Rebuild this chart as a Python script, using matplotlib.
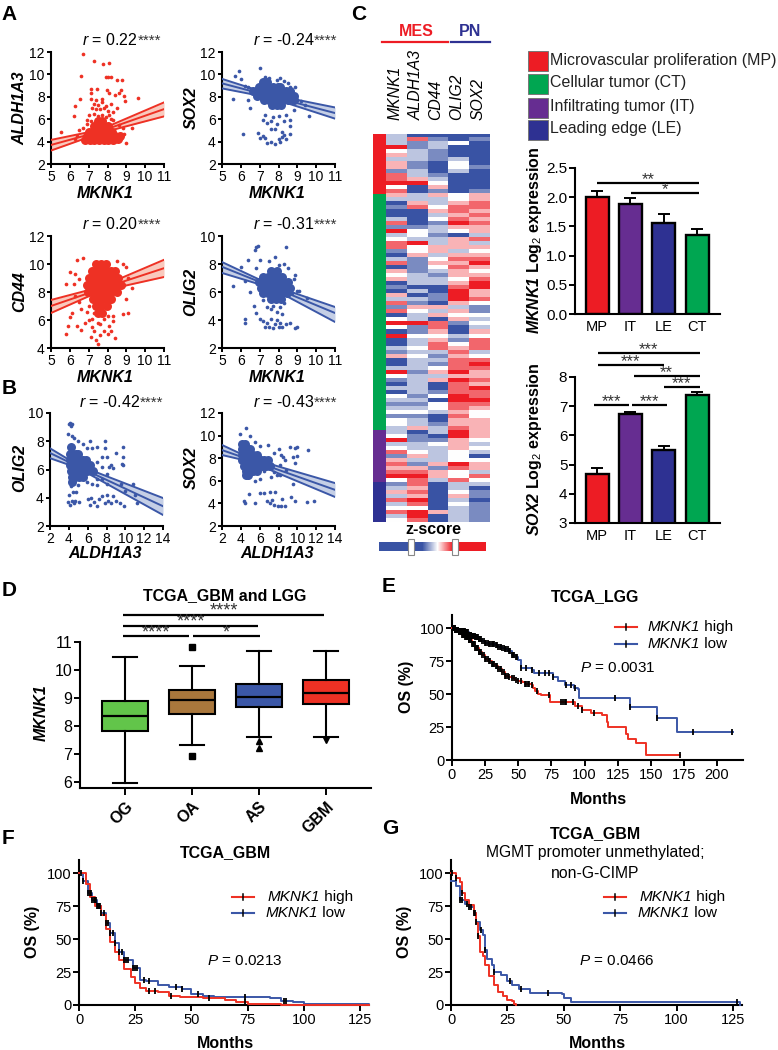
import numpy as np
import matplotlib
matplotlib.use("Agg")
import matplotlib.pyplot as plt
from matplotlib.colors import LinearSegmentedColormap
from matplotlib.lines import Line2D
from matplotlib.patches import Rectangle

W, H = 778, 1050
RED = "#ee3124"
BLUE = "#3b57a7"
K_RED = "#ed1c24"
K_GREEN = "#00a651"
K_PURPLE = "#662d91"
K_NAVY = "#2e3192"

plt.rcParams["font.family"] = ["Liberation Sans", "DejaVu Sans"]
plt.rcParams["mathtext.fontset"] = "custom"
plt.rcParams["mathtext.rm"] = "Liberation Sans"
plt.rcParams["mathtext.it"] = "Liberation Sans:italic"
plt.rcParams["mathtext.bf"] = "Liberation Sans:bold"
plt.rcParams["mathtext.bfit"] = "Liberation Sans:italic:bold"

# panel A/B scatter, single samples
a1_x = [6.7,7.3,7.75,8.1,6.6,7.9,8.05,8.2,8.5,8.75,7.1,7.45,7.95,8.7,6.55,6.3,6.2,7.15,7.1,7.4,7.7,8.1,8.4,8.6,8.85,8.95,9.6,5.55,9.3,9.0,
        7.3,7.5,7.7,7.9,8.2,8.5,7.2,7.4,7.6,7.8,8.0,8.3,7.0,7.3,7.5,7.7,7.9,8.1,6.9,7.1,7.4,7.6,7.8,8.0,8.3,6.7,6.5,6.4,6.9,8.6,8.8,8.9,6.3,8.2,8.7]
a1_y = [11.8,11.2,10.9,11.05,9.9,9.8,9.8,9.8,9.5,9.5,8.7,8.7,8.6,8.6,7.8,7.2,6.3,8.3,7.8,7.7,7.8,8.3,8.2,8.3,8.1,7.6,7.9,4.9,5.2,3.9,
        7.4,7.3,7.5,7.2,7.4,7.0,7.0,6.9,6.9,7.0,6.7,6.6,6.4,6.5,6.3,6.4,6.2,6.4,5.9,5.8,5.7,6.0,5.9,5.6,5.9,5.2,5.0,4.5,5.6,5.5,5.2,4.7,4.2,6.0,4.3]
a2_x = [7,5.9,5.7,6,8.1,8.3,8.6,5.6,6.4,6.5,9.6,6.1,6.9,7,7.2,7.3,7.4,7.6,7.8,8,8.1,8.2,8.3,8.6,8.4,7.6,7.8,8.2,7.2,7.4,7.6,7.9,8.3,8.6,8.6,7.3,7.7,8,8.4,8.8,9,9.2,9.4,8.9,6.2,6.4,7.3,7.5,7.9,8.5]
a2_y = [10.6,10.3,9.9,9.6,9.7,9.4,8.9,7.8,7.7,7,6.3,4.7,4.8,4.3,4.5,4.3,3.9,4,3.8,4.2,4,4.4,4.6,4.7,4.2,5.1,5.1,4.9,5.9,5.7,5.8,5.6,5.8,5.9,5.4,6.4,6.2,6.3,6.4,6.8,7.7,7.6,7.3,8.9,9,8.9,9.8,9.7,9.5,9.2]
a3_x = [6.4,6.7,6,6.3,5.8,6.2,6.5,8.5,8.8,9,9.1,8.9,9.3,5.9,5.8,6,6.1,6.4,6.6,6.8,7,7.2,7.1,7.3,7.4,7.5,7.6,7.8,8,8.2,8.4,7.3,7.6,7.8,8,8.3,8.8,9.1,9,6.5,6.6,6.3,7.2,7.5,8.1,8.3,6.9,7.0]
a3_y = [10.3,10.4,9.4,9.3,8.6,8.6,8.9,10.2,10,9.8,9,8.5,8.3,5.6,5,6.2,6.5,5.6,5.3,5.8,6,5.5,4.8,5.2,4.6,4.3,4.9,5.2,5,5.2,4.7,6.5,5.7,6.1,6.3,6.3,6.4,6.5,7.5,7.3,6.8,7.7,6.1,5.8,5.6,5.9,6.6,7.0]
a4_x = [6.8,6.9,6.75,8.4,6.4,7,7.5,7.8,8,8.3,8.5,8.9,6,6.8,5.6,6.2,6.5,9,9.1,8.8,6.7,6.8,6.2,6.2,7.0,7.2,7.3,7.4,7.5,7.6,7.7,7.8,7.9,8,8.1,8.2,8.4,8.6,8.9,9,7.6,7.7,7.9,8.1,8.2,7.2,7.4,8.3,9.5,8.7]
a4_y = [9.2,9.3,9.0,9.2,8.3,8.3,8.2,8.5,7.9,8,7.7,7.2,7.8,7.7,6.4,6.8,6,6.1,6.1,6.9,5,4.5,4.1,3.8,4.1,3.9,3.5,3.8,3.5,4.1,3.4,3.7,4,3.5,3.8,3.5,3.7,3.8,3.4,3.5,4.8,5,4.6,4.9,4.4,5.4,4.9,5.2,5.6,5.9]
b1_x = [4.1,4.2,4.0,4.3,3.9,4.3,4.6,5,5.5,6.2,7,7.8,7.8,6.5,5.9,9,9.7,9.8,9.6,9.8,7.5,8,8.5,8.7,8.3,7,7.5,8,7.5,7,5.9,6.5,7,8,9.5,10.8,10,11,4.1,4.2,4.4,4.8,5,4,3.9,4.1,4.3,4.5,4.7,5.1,6,6.2,6.4,6.7,7,7.2,7.5,7.8,8,8.2,8.5,8.7,9,9.4,9.9,11.2]
b1_y = [9.3,9.1,9.2,9.2,8.5,8.4,8.2,8,7.8,8,7.6,8.0,7.5,7.5,7.5,7.2,7.6,6.9,6.4,6.3,6.9,6.9,6.3,6.1,6.2,6.5,6.2,5.7,5.3,5.3,5.1,5,4.9,5,5,5,4.5,4.2,5.2,4.8,4.4,4.4,4.9,4.2,3.7,3.5,3.8,3.6,3.8,3.7,3.9,3.5,4,3.7,3.4,3.9,4.1,3.6,4.2,3.8,3.6,4.1,3.8,3.6,3.4,3.6]
b2_x = [4.6,3.9,5,5.5,6,6.9,7.5,8,8.3,8.7,9.2,9.7,10,11.1,9.5,10,9.8,8.2,8.8,7.5,5.5,6,4.5,4.9,6.5,7.2,7.8,8.2,9.5,4.9,4.3,4.4,5.5,6,6.5,6.8,7.1,7.3,7.5,7.9,8.3,8.4,8.7,9.3,9.8,11,11.8,7.1,7.6,8.5]
b2_y = [10.7,10.1,10,9.4,9.1,9.2,8.5,8.8,8.3,7.8,9,8.9,9,8.7,8.1,8.2,7.6,7.4,7,6.8,6,6.2,6.3,6.3,6.9,6.3,6.5,6.5,5.7,4.8,4.2,4.0,4,4.9,4.9,4.2,5,4.3,3.9,3.8,3.8,4.4,3.8,4.6,4.2,4.1,4.2,4,5.0,8.1]

# dense centre of each cloud, where single samples merge into one blob
a1_core_x = [6.8,7.05,7.3,7.55,7.8,8.05,8.3,8.55,6.9,7.15,7.4,7.65,7.9,8.15,8.4,8.65,7.0,7.25,7.5,7.75,8.0,8.25,7.3,7.55,7.8,8.0,7.5,7.7]
a1_core_y = [4.15,4.1,4.1,4.1,4.1,4.1,4.15,4.2,4.5,4.5,4.5,4.5,4.5,4.5,4.5,4.5,4.9,4.9,4.9,4.9,4.9,4.9,5.35,5.35,5.35,5.35,5.8,5.8]
a2_core_x = [7.2,7.4,6.95,7.2,7.45,7.7,7.95,8.1,6.65,6.9,7.15,7.4,7.65,7.9,8.15,8.4,8.6,6.85,7.1,7.35,7.6,7.85,8.1,8.35,8.6,8.8,7.25,7.5,7.75,8.0,8.25,8.5,8.8,7.65,7.9,8.15]
a2_core_y = [9.3,9.3,8.9,8.9,8.9,8.9,8.9,8.9,8.5,8.5,8.5,8.5,8.5,8.5,8.5,8.5,8.5,8.1,8.1,8.1,8.1,8.1,8.1,8.1,8.1,8.1,7.7,7.7,7.7,7.7,7.7,7.7,7.7,7.3,7.3,7.3]
a3_core_x = [7.4,7.65,7.9,7.2,7.45,7.7,7.95,8.2,8.4,7.0,7.25,7.5,7.75,8.0,8.25,8.55,6.9,7.15,7.4,7.65,7.9,8.15,8.4,8.7,6.95,7.2,7.45,7.7,7.95,8.2,8.5,7.25,7.5,7.75,8.0,8.2,7.4,7.65,7.95,7.5,7.7]
a3_core_y = [10,10,10,9.5,9.5,9.5,9.5,9.5,9.5,9,9,9,9,9,9,9,8.5,8.5,8.5,8.5,8.5,8.5,8.5,8.5,8,8,8,8,8,8,8,7.5,7.5,7.5,7.5,7.5,7,7,7,6.5,6.5]
a4_core_x = [7.6,7.9,7.2,7.45,7.7,7.95,8.2,6.95,7.2,7.45,7.7,7.95,8.2,8.5,7.05,7.3,7.55,7.8,8.05,8.3,8.6,7.2,7.45,7.7,7.95,8.2,8.45,7.6,7.85,8.15]
a4_core_y = [7.5,7.5,7.1,7.1,7.1,7.1,7.1,6.7,6.7,6.7,6.7,6.7,6.7,6.7,6.3,6.3,6.3,6.3,6.3,6.3,6.3,5.9,5.9,5.9,5.9,5.9,5.9,5.5,5.5,5.5]
b1_core_x = [4.2,4.1,4.4,4.8,5.0,4.1,4.5,4.9,5.2,5.5,5.8,4.1,4.5,4.9,5.3,5.7,6.0,6.3,4.2,4.6,5.0,5.5,5.9,6.6,4.3,4.7,5.1,5.5,4.3]
b1_core_y = [7.6,7.1,7.1,7.1,7.1,6.7,6.7,6.7,6.7,6.7,6.7,6.3,6.3,6.3,6.3,6.3,6.3,6.3,5.9,5.9,5.9,5.9,5.9,5.9,5.5,5.5,5.5,5.5,5.1]
b2_core_x = [4.1,4.4,4.1,4.4,4.7,5.0,4.1,4.5,4.9,5.3,5.7,4.1,4.5,4.9,5.3,5.7,6.1,6.5,6.9,4.3,4.7,5.1,5.5,5.9,6.3,6.7,7.1,4.5,4.9,5.3,5.7,4.5,4.8]
b2_core_y = [9.3,9.3,8.8,8.8,8.8,8.8,8.3,8.3,8.3,8.3,8.3,7.8,7.8,7.8,7.8,7.8,7.8,7.8,7.8,7.3,7.3,7.3,7.3,7.3,7.3,7.3,7.3,6.9,6.9,6.9,6.9,6.5,6.5]

# regression lines with the confidence band: upper, fit, lower
a1_line_x = [5, 7.6, 11]
a1_upper = [4.15, 5.05, 7.5]
a1_fit = [3.7, 4.9, 6.9]
a1_lower = [3.2, 4.75, 6.25]
a2_line_x = [5, 7.6, 11]
a2_upper = [9.6, 8.2, 7.05]
a2_fit = [9.2, 8.05, 6.55]
a2_lower = [8.75, 7.9, 6.05]
a3_line_x = [5, 7.6, 11]
a3_upper = [7.43, 8.35, 10.3]
a3_fit = [7.0, 8.2, 9.7]
a3_lower = [6.5, 8.05, 9.07]
a4_line_x = [5, 7.6, 11]
a4_upper = [8.14, 6.5, 4.93]
a4_fit = [7.8, 6.4, 4.5]
a4_lower = [7.36, 6.3, 3.86]
b1_line_x = [2, 5, 14]
b1_upper = [7.5, 6.3, 3.98]
b1_fit = [7.17, 6.2, 3.4]
b1_lower = [6.8, 6.1, 2.78]
b2_line_x = [2, 5, 14]
b2_upper = [9.17, 8.0, 5.8]
b2_fit = [8.72, 7.85, 5.2]
b2_lower = [8.28, 7.7, 4.57]

# heatmap rows: MKNK1, ALDH1A3, CD44, OLIG2, SOX2
heat_genes = ["MKNK1", "ALDH1A3", "CD44", "OLIG2", "SOX2"]
heat_mp = [
    [-1,-3,-3,-3,-3],[-1,2,-2,-3,-2],[-1,-2,-1,0,-3],[3,-2,-1,-3,-3],[0,-1,-2,-3,-3],
    [1,-1,-2,-3,-3],[-1,-1,-2,-1,-3],[1,-2,-3,0,-3],[1,-2,-3,0,-2],[-2,-1,-3,-1,-3],
    [2,-1,-2,-3,-3],[2,1,-1,-3,-3],[3,3,0,-3,-3],[0,-3,1,-3,-3],[2,-3,-2,-3,-2],
]
heat_ct = [
    [1,-1,1,0,1],[-1,-1,-1,0,1],[-3,1,-1,1,2],[-2,2,0,2,2],[-3,-3,1,2,1],
    [-3,-3,-1,1,2],[-1,-3,0,2,1],[2,-3,-2,3,2],[-2,-2,-1,1,1],[3,0,-1,0,1],
    [-1,0,-2,-3,-1],[0,-1,-1,1,2],[2,3,-1,1,-1],[2,0,1,1,1],[-2,0,1,-1,0],
    [-3,1,-1,1,1],[-1,-2,0,2,2],[2,-2,1,1,3],[-3,-2,0,2,1],[1,-2,-1,1,0],
    [0,-1,-2,1,1],[1,-1,-1,0,2],[-3,-1,-1,1,3],[-2,-3,-3,2,3],[-3,-1,-3,3,1],
    [1,-3,-2,3,1],[-1,-1,-2,3,2],[2,-2,-3,1,0],[-2,1,1,-1,-2],[2,0,-1,1,-2],
    [-3,-1,1,0,0],[0,-1,-3,1,-1],[3,3,2,-2,0],[0,-2,2,-3,-1],[-3,-2,1,-3,1],
    [3,0,0,-1,0],[-3,-1,1,-2,2],[-3,-1,2,0,2],[-1,0,2,1,2],[-2,-1,-1,2,-1],
    [1,0,-2,1,0],[-3,-1,-1,2,2],[-3,-1,-2,2,3],[-1,-1,0,2,2],[3,-2,1,3,1],
    [0,-1,-1,1,1],[-2,-1,1,3,2],[-3,-1,-3,2,1],[-1,-1,-3,2,3],[-3,-1,-2,2,2],
    [0,-2,0,3,2],[-1,-1,-3,3,3],[-2,-2,0,2,2],[-1,-1,0,2,1],[0,0,-1,1,0],
    [-2,-2,-3,2,0],[0,-1,-3,1,1],[0,-1,-2,1,1],[-1,1,-1,2,1],
]
heat_it = [
    [-1,-3,-1,3,1],[0,-2,-3,3,1],[3,-2,-2,1,0],[-1,-1,0,1,-1],[0,-1,-1,1,0],
    [2,0,-1,0,-1],[-2,1,-1,0,-3],[1,-1,-1,0,0],[2,-2,1,3,1],[1,1,-2,2,1],
    [2,2,1,0,-1],[3,3,1,0,2],[0,2,-1,2,0],
]
heat_le = [
    [-2,2,-3,-1,-1],[-1,1,-3,-1,-3],[1,2,-3,0,-2],[-1,1,-3,1,-2],[2,3,-3,-1,-3],
    [-1,2,-3,0,-2],[0,0,-3,-1,-2],[2,3,1,-1,-2],[-1,3,-3,-1,-2],[0,2,-3,-1,-2],
]
group_names = ["Microvascular proliferation (MP)", "Cellular tumor (CT)",
               "Infiltrating tumor (IT)", "Leading edge (LE)"]

# bars
bar_labels = ["MP", "IT", "LE", "CT"]
mknk1_means = [2.0, 1.88, 1.55, 1.36]
mknk1_errs = [0.1, 0.1, 0.17, 0.1]
sox2_means = [4.68, 6.72, 5.5, 7.4]
sox2_errs = [0.2, 0.08, 0.13, 0.07]

# boxes
box_labels = ["OG", "OA", "AS", "GBM"]
box_low = [5.98, 7.33, 7.62, 7.6]
box_q1 = [7.83, 8.44, 8.69, 8.78]
box_med = [8.35, 8.92, 9.05, 9.17]
box_q3 = [8.88, 9.27, 9.5, 9.63]
box_high = [10.48, 10.15, 10.68, 10.68]
box_fliers = [[], [10.83, 6.93], [7.47, 7.22], [7.5]]
box_colors = ["#62c54a", "#a9773c", "#3b57a7", "#ee3124"]

# survival curves
e_high_t = [0,2.5,5,7.5,10,12.5,15,17.5,20,22.5,25,27.5,30,32.5,35,37.5,40,42.5,45,47.5,50,52.5,55,57.5,60,61,63,65,67,74,93,98,105,113,117,118,131,133,139,146.5,172]
e_high_s = [100,99,97,95,93,91,88,85,82,80,77,75,73,71,69,67,64,63,62,61,60,59,58,58,57,55,52,50,49,44,41,38,36,34,29,25,20,16,13,4,4]
e_low_t = [0,2.5,5,7.5,10,12.5,15,17.5,20,22.5,25,27.5,30,32.5,35,37.5,40,42.5,45,47.5,50,52,60,62,73,76,80,85,92,95,96,134,155,170,212]
e_low_s = [100,99,98,98,97,95,94,93,92,90,89,88,88,87,86,85,84,83,80,78,76,70,68,66,66,63,60,57,55,54,47,40,32,21,21]
e_high_cens = [0.5,1,1.5,2,2.5,3,3.5,4,4.5,5,5.5,6,6.5,7,7.5,8,8.5,9,9.5,10,10.5,11,11.5,12,12.5,13,13.5,14,14.5,15,15.5,16,16.5,17,17.5,18,18.5,19,19.5,20,20.5,21,22,23,24,25,26,27,28,29,30,31,32,33,34,35,36,37,38,39,40,41,42,43,45,47,48,50,52,55,56,57,58,60,64,73,82,84,85,86,91,95,98,107,172]
e_low_cens = [0.5,1,1.5,2,2.5,3,3.5,4,4.5,5,5.5,6,6.5,7,7.5,8,8.5,9,9.5,10,10.5,11,11.5,12,12.5,13,13.5,14,14.5,15,15.5,16,16.5,17,17.5,18,18.5,19,19.5,20,20.5,21,22,23,24,25,26,27,28,29,30,31,32,33,34,35,36,37,38,39,40,41,42,43,44,45,46,47,48,49,52,56,60,66,70,73,76,86,90,93,123,134,155,182,211]
f_high_t = [0,3,5,7,10,12,14,16,18,20,23,25,27,30,35,40,45,55,65,70,75,78,90,129]
f_high_s = [100,92,82,75,68,58,48,40,34,27,21,17,13,11,10,7,6,5,4,2,1,1,0,0]
f_low_t = [0,2,4,6,8,10,12,14,16,18,20,24,27,30,35,40,46,50,55,60,85,90,95,100,115,129]
f_low_s = [100,94,85,80,75,70,62,55,47,40,34,28,19,18,15,14,12,8,7,6,5,3,2,1,1,0]
f_high_cens = [31,34,41,58,74]
f_low_cens = [1,2,4,5,5.5,6,6.5,7,7.5,8,8.5,9,9.5,10,11,12,13,14,15,16,18,19,20,21,22,24,25,26,29,31,43,46,53,74,91,92]
g_high_t = [0,2,4,5,6,8,10,11,12,13,14,15,17,19,21,23,25,27,28,29]
g_high_s = [100,96,93,85,80,76,70,62,52,40,37,30,22,15,10,7,4,3,1,0]
g_low_t = [0,2,4,6,8,10,11,13,14,15,16,18,19,22,25,27,30,35,49,50,53,127,128]
g_low_s = [94,90,80,77,74,70,63,57,53,42,35,30,25,23,18,15,12,9,8,5,2,2,0]
g_high_cens = [0.5,2,5,12]
g_low_cens = [4,5,7,8,9,10,10.5,11,13.5,15,19,26,31,43,127]

fig = plt.figure(figsize=(W / 100, H / 100), dpi=100)


def add_ax(left, top, right, bottom):
    ax = fig.add_axes([left / W, 1 - bottom / H, (right - left) / W, (bottom - top) / H])
    ax.spines[["top", "right"]].set_visible(False)
    ax.spines[["left", "bottom"]].set_linewidth(1.5)
    ax.patch.set_alpha(0)
    return ax


def txt(x, y, s, **kw):
    kw.setdefault("ha", "center")
    kw.setdefault("va", "center")
    return fig.text(x / W, 1 - y / H, s, **kw)


def px_line(x0, x1, y0, y1, **kw):
    fig.add_artist(Line2D([x0 / W, x1 / W], [1 - y0 / H, 1 - y1 / H],
                          transform=fig.transFigure, **kw))


def px_box(x0, y0, x1, y1, **kw):
    fig.add_artist(Rectangle((x0 / W, 1 - y1 / H), (x1 - x0) / W, (y1 - y0) / H,
                             transform=fig.transFigure, **kw))


def scatter_panel(box, xlim, ylim, xticks, yticks, xs, ys, core_x, core_y,
                  line_x, upper, fit, lower, color, fill):
    ax = add_ax(*box)
    ax.fill_between(line_x, lower, upper, color=fill, lw=0, zorder=1)
    ax.scatter(xs, ys, s=7, color=color, lw=0, zorder=2, clip_on=False)
    ax.scatter(core_x, core_y, s=42, color=color, lw=0, zorder=2, clip_on=False)
    for vals in (upper, fit, lower):
        ax.plot(line_x, vals, color=color, lw=1.4, zorder=3)
    ax.set_xlim(*xlim)
    ax.set_ylim(*ylim)
    ax.set_xticks(xticks)
    ax.set_yticks(yticks)
    ax.tick_params(length=3, width=1.4, labelsize=10, pad=1.5)
    return ax


sc_x_a = [5, 6, 7, 8, 9, 10, 11]
sc_x_b = [2, 4, 6, 8, 10, 12, 14]
scatter_panel((51, 52, 164, 164), (5, 11), (2, 12), sc_x_a, range(2, 13, 2),
              a1_x, a1_y, a1_core_x, a1_core_y, a1_line_x, a1_upper, a1_fit, a1_lower, RED, "#f9c9bd")
scatter_panel((222, 52, 335, 164), (5, 11), (2, 12), sc_x_a, range(2, 13, 2),
              a2_x, a2_y, a2_core_x, a2_core_y, a2_line_x, a2_upper, a2_fit, a2_lower, BLUE, "#c5cfe6")
scatter_panel((51, 236, 164, 348), (5, 11), (4, 12), sc_x_a, range(4, 13, 2),
              a3_x, a3_y, a3_core_x, a3_core_y, a3_line_x, a3_upper, a3_fit, a3_lower, RED, "#f9c9bd")
scatter_panel((222, 236, 335, 348), (5, 11), (2, 10), sc_x_a, range(2, 11, 2),
              a4_x, a4_y, a4_core_x, a4_core_y, a4_line_x, a4_upper, a4_fit, a4_lower, BLUE, "#c5cfe6")
scatter_panel((50, 413, 163, 526), (2, 14), (2, 10), sc_x_b, range(2, 11, 2),
              b1_x, b1_y, b1_core_x, b1_core_y, b1_line_x, b1_upper, b1_fit, b1_lower, BLUE, "#c5cfe6")
scatter_panel((222, 413, 335, 526), (2, 14), (2, 12), sc_x_b, range(2, 13, 2),
              b2_x, b2_y, b2_core_x, b2_core_y, b2_line_x, b2_upper, b2_fit, b2_lower, BLUE, "#c5cfe6")

bi = dict(fontsize=11.5, fontweight="bold", fontstyle="italic")
for x, y, s in [(105, 193, "MKNK1"), (277, 193, "MKNK1"), (105, 377, "MKNK1"), (277, 377, "MKNK1"),
                (105, 553, "ALDH1A3"), (277, 553, "ALDH1A3")]:
    txt(x, y, s, **bi)
for x, y, s in [(20, 108, "ALDH1A3"), (191, 108, "SOX2"), (20, 292, "CD44"), (191, 292, "OLIG2"),
                (20, 468, "OLIG2"), (191, 468, "SOX2")]:
    txt(x, y, s, rotation=90, **bi)

for x, y, s in [(82, 40, "0.22"), (253, 40, "-0.24"), (82, 224, "0.20"), (253, 224, "-0.31"),
                (79, 402, "-0.42"), (253, 402, "-0.43")]:
    txt(x, y, r"$\mathit{r}$ = " + s, ha="left", fontsize=11.5)
    off = 56 if not s.startswith("-") else 61
    txt(x + off, y + 1, "****", ha="left", fontsize=11, color="#333333")

for x, y, s in [(9, 15, "A"), (9, 388, "B"), (359, 15, "C"), (9, 590, "D"),
                (389, 587, "E"), (8, 839, "F"), (390, 828, "G")]:
    txt(x, y, s, fontsize=15, fontweight="bold")

# panel C heatmap
heat_all = np.array(heat_mp + heat_ct + heat_it + heat_le)
heat_cmap = LinearSegmentedColormap.from_list("zs", ["#3953a4", "#ffffff", "#ed1c24"])
ax_h = fig.add_axes([386 / W, 1 - 522 / H, 104 / W, 388 / H])
ax_h.imshow(heat_all, aspect="auto", cmap=heat_cmap, vmin=-3, vmax=3, interpolation="nearest")
ax_h.axis("off")

ax_s = fig.add_axes([373 / W, 1 - 522 / H, 13 / W, 388 / H])
group_sizes = [len(heat_mp), len(heat_ct), len(heat_it), len(heat_le)]
group_cols = [K_RED, K_GREEN, K_PURPLE, K_NAVY]
ax_s.bar([0] * 4, group_sizes, bottom=np.cumsum([0] + group_sizes[:-1]), width=1, color=group_cols)
ax_s.set_xlim(-0.5, 0.5)
ax_s.set_ylim(sum(group_sizes), 0)
ax_s.axis("off")

txt(416, 32, "MES", color=K_RED, fontsize=11.5, fontweight="bold")
txt(470, 32, "PN", color=K_NAVY, fontsize=11.5, fontweight="bold")
px_line(382, 448, 42, 42, color=K_RED, lw=1.6)
px_line(451, 490, 42, 42, color=K_NAVY, lw=1.6)
for x, s in zip([395, 416, 436, 457, 478], heat_genes):
    fig.text(x / W, 1 - 120 / H, s, rotation=90, ha="center", va="bottom", fontsize=11.3, fontstyle="italic")

txt(433, 530, "z-score", fontsize=11.5, fontweight="bold")
ax_z = fig.add_axes([379 / W, 1 - 551 / H, 107 / W, 9 / H])
ax_z.imshow(np.array([[-3, -3, -3, -3, -3, -3, -3, -3, -3, -2, -1, 0, 1, 2, 3, 3, 3, 3, 3, 3, 3]]),
            aspect="auto", cmap=heat_cmap, vmin=-3, vmax=3, interpolation="bilinear")
ax_z.axis("off")
for x0 in (408, 452):
    px_box(x0, 539, x0 + 6, 555, facecolor="white", edgecolor="#888888", lw=0.8, zorder=5)

# legend swatches
for y0, col, name in zip([51, 74, 98, 120], group_cols, group_names):
    px_box(528, y0, 548, y0 + 20, facecolor=col, edgecolor="#777777", lw=0.7)
    txt(550, y0 + 9, name, ha="left", fontsize=11.5, color="#222222")


def bar_panel(box, ylim, yticks, means, errs, fmt):
    ax = add_ax(*box)
    pos = np.arange(4)
    ax.bar(pos, means, width=0.69, color=[K_RED, K_PURPLE, K_NAVY, K_GREEN], edgecolor="black", lw=1.7, zorder=2)
    ax.errorbar(pos, means, yerr=[np.zeros(4), errs], fmt="none", ecolor="black",
                elinewidth=1.4, capsize=4, capthick=1.4, zorder=1)
    ax.set_xlim(-0.66, 3.68)
    ax.set_ylim(*ylim)
    ax.set_yticks(yticks)
    ax.set_yticklabels([fmt.format(v) for v in yticks])
    ax.set_xticks(pos)
    ax.set_xticklabels(bar_labels)
    ax.tick_params(axis="x", length=0, labelsize=10.5, pad=4)
    ax.tick_params(axis="y", length=4, width=1.4, labelsize=11, pad=1.5)
    return ax


def sig(ax, x0, x1, y, stars, fontsize=12):
    ax.plot([x0, x1], [y, y], color="black", lw=1.6, clip_on=False, solid_capstyle="butt")
    ax.annotate(stars, xy=((x0 + x1) / 2, y), xytext=(0, 2.5), textcoords="offset points",
                ha="center", va="center", fontsize=fontsize, color="#333333", annotation_clip=False)


ax_b1 = bar_panel((575, 168, 720, 314), (0, 2.5), [0, 0.5, 1, 1.5, 2, 2.5], mknk1_means, mknk1_errs, "{:.1f}")
sig(ax_b1, 0.0, 3.05, 2.25, "**")
sig(ax_b1, 1.02, 3.05, 2.07, "*")
ax_b2 = bar_panel((575, 377, 720, 523), (3, 8), [3, 4, 5, 6, 7, 8], sox2_means, sox2_errs, "{:.0f}")
sig(ax_b2, 0.03, 3.07, 8.82, "***")
sig(ax_b2, 0.03, 2.0, 8.42, "***")
sig(ax_b2, 1.1, 3.07, 8.03, "**")
sig(ax_b2, 2.0, 3.07, 7.65, "***")
sig(ax_b2, -0.1, 0.95, 7.04, "***")
sig(ax_b2, 1.05, 2.1, 7.04, "***")
txt(534, 240, r"$\mathbfit{MKNK1}$ Log$_{2}$ expression", rotation=90, fontsize=11.5, fontweight="bold")
txt(534, 449, r"$\mathbfit{SOX2}$ Log$_{2}$ expression", rotation=90, fontsize=11.5, fontweight="bold")

# panel D boxes
ax_d = add_ax(80, 642, 371, 788)
stats = [dict(med=m, q1=a, q3=b, whislo=l, whishi=h, fliers=f)
         for m, a, b, l, h, f in zip(box_med, box_q1, box_q3, box_low, box_high, box_fliers)]
parts = ax_d.bxp(stats, positions=range(4), widths=0.68, patch_artist=True, capwidths=0.35, manage_ticks=False,
                 boxprops=dict(lw=1.5), medianprops=dict(color="black", lw=1.6),
                 whiskerprops=dict(lw=1.5), capprops=dict(lw=1.5),
                 flierprops=dict(markerfacecolor="black", markeredgecolor="black", markersize=4))
for patch, col in zip(parts["boxes"], box_colors):
    patch.set_facecolor(col)
for line, mk in zip(parts["fliers"], ["", "s", "^", "v"]):
    line.set_marker(mk)
ax_d.set_xlim(-0.67, 3.67)
ax_d.set_ylim(5.79, 11)
ax_d.set_yticks(range(6, 12))
ax_d.set_xticks(range(4))
ax_d.set_xticklabels(box_labels)
plt.setp(ax_d.get_xticklabels(), rotation=45, ha="right", rotation_mode="anchor", fontweight="bold", fontsize=11.5)
ax_d.tick_params(axis="y", length=4, width=1.4, labelsize=11.5, pad=1.5)
ax_d.tick_params(axis="x", length=5, width=1.4, pad=3)
sig(ax_d, -0.03, 2.97, 11.97, "****", fontsize=13)
sig(ax_d, -0.03, 1.99, 11.58, "****", fontsize=13)
sig(ax_d, -0.03, 0.96, 11.2, "****", fontsize=13)
sig(ax_d, 1.01, 2.01, 11.2, "*", fontsize=13)
txt(225, 596, "TCGA_GBM and LGG", fontsize=11.5, fontweight="bold")
txt(41, 713, "MKNK1", rotation=90, fontsize=11.5, fontweight="bold", fontstyle="italic")


def km_panel(box, xmax, xticks, hi_t, hi_s, lo_t, lo_s, hi_c, lo_c):
    ax = add_ax(*box)
    for t, s, cens, col in [(lo_t, lo_s, lo_c, BLUE), (hi_t, hi_s, hi_c, RED)]:
        ax.step(t, s, where="post", color=col, lw=1.4, clip_on=False, zorder=4)
        idx = np.searchsorted(t, cens, side="right") - 1
        ax.plot(cens, np.array(s)[idx], ls="none", marker="|", ms=3.8, mew=1.3, color="black",
                clip_on=False, zorder=5)
    ax.set_xlim(0, xmax)
    ax.set_ylim(0, 110)
    ax.set_xticks(xticks)
    ax.set_yticks([0, 25, 50, 75, 100])
    ax.tick_params(length=4, width=1.4, labelsize=10.5, pad=1.5)
    return ax


km_panel((452, 615, 743, 760), 219.6, range(0, 201, 25), e_high_t, e_high_s, e_low_t, e_low_s, e_high_cens, e_low_cens)
km_panel((79, 860, 369, 1005), 129, range(0, 126, 25), f_high_t, f_high_s, f_low_t, f_low_s, f_high_cens, f_low_cens)
km_panel((451, 860, 742, 1005), 129, range(0, 126, 25), g_high_t, g_high_s, g_low_t, g_low_s, g_high_cens, g_low_cens)

txt(595, 597, "TCGA_LGG", fontsize=11.5, fontweight="bold")
txt(225, 853, "TCGA_GBM", fontsize=11.5, fontweight="bold")
txt(595, 834, "TCGA_GBM", fontsize=11.5, fontweight="bold")
txt(595, 853, "MGMT promoter unmethylated;", fontsize=11.3)
txt(595, 873, "non-G-CIMP", fontsize=11.3)
txt(598, 800, "Months", fontsize=11.5, fontweight="bold")
txt(225, 1044, "Months", fontsize=11.5, fontweight="bold")
txt(597, 1044, "Months", fontsize=11.5, fontweight="bold")
txt(406, 687, "OS (%)", rotation=90, fontsize=11.5, fontweight="bold")
txt(33, 932, "OS (%)", rotation=90, fontsize=11.5, fontweight="bold")
txt(405, 932, "OS (%)", rotation=90, fontsize=11.5, fontweight="bold")

for lx0, lx1, tx_hi, tx_lo, y_hi, y_lo in [(615, 637, 648, 648, 627, 644),
                                           (232, 254, 268, 266, 897, 913),
                                           (604, 626, 640, 638, 897, 913)]:
    px_line(lx0, lx1, y_hi, y_hi, color=RED, lw=1.5)
    px_line(lx0, lx1, y_lo, y_lo, color=BLUE, lw=1.5)
    for yy in (y_hi, y_lo):
        px_line((lx0 + lx1) / 2, (lx0 + lx1) / 2, yy - 3, yy + 3, color="black", lw=1.1)
    txt(tx_hi, y_hi, "MKNK1", ha="left", fontsize=11, fontstyle="italic")
    txt(tx_hi + 52, y_hi, " high", ha="left", fontsize=11)
    txt(tx_lo, y_lo, "MKNK1", ha="left", fontsize=11, fontstyle="italic")
    txt(tx_lo + 52, y_lo, " low", ha="left", fontsize=11)

txt(580, 668, r"$\mathit{P}$ = 0.0031", ha="left", fontsize=11)
txt(207, 961, r"$\mathit{P}$ = 0.0213", ha="left", fontsize=11)
txt(579, 961, r"$\mathit{P}$ = 0.0466", ha="left", fontsize=11)

fig.savefig("out.png", dpi=100)
